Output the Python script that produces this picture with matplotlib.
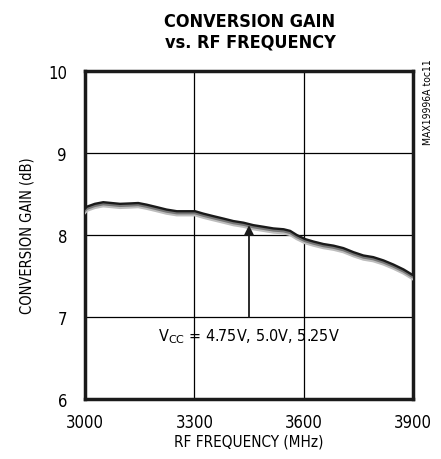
import matplotlib
matplotlib.use("Agg")
import matplotlib.pyplot as plt

# data
freq = [3000, 3005, 3027, 3050, 3073, 3096, 3124, 3146, 3169, 3197, 3224, 3252,
        3279, 3302, 3325, 3352, 3380, 3407, 3435, 3462, 3490, 3517, 3545, 3563,
        3581, 3604, 3627, 3654, 3682, 3709, 3737, 3764, 3791, 3819, 3846, 3874, 3900]
gain_475 = [8.32, 8.345, 8.38, 8.40, 8.39, 8.38, 8.385, 8.39, 8.37, 8.34, 8.31, 8.29,
            8.29, 8.29, 8.26, 8.23, 8.20, 8.17, 8.15, 8.12, 8.10, 8.08, 8.07, 8.05,
            8.00, 7.95, 7.92, 7.89, 7.87, 7.84, 7.79, 7.75, 7.73, 7.69, 7.64, 7.58, 7.51]
gain_50 = [g - 0.022 for g in gain_475]
gain_525 = [g - 0.045 for g in gain_475]
xticks = [3000, 3300, 3600, 3900]
yticks = [6, 7, 8, 9, 10]

narrow = dict(family="DejaVu Sans", stretch="condensed")

fig = plt.figure(figsize=(4.41, 4.60), dpi=100)
ax = fig.add_axes([85/441, 60/460, 328/441, 328/460])

ax.plot(freq, gain_525, color="#bdbdbd", lw=2.2, zorder=3)
ax.plot(freq, gain_50, color="#777777", lw=2.0, zorder=4)
ax.plot(freq, gain_475, color="#1a1a1a", lw=1.7, zorder=5)

ax.set_xlim(3000, 3900)
ax.set_ylim(6, 10)
ax.set_xticks(xticks)
ax.set_yticks(yticks)
ax.grid(True, color="black", lw=0.9)
ax.tick_params(length=0, labelsize=12)
ax.tick_params(axis="x", pad=10)
ax.tick_params(axis="y", pad=13)
for lab in ax.get_xticklabels() + ax.get_yticklabels():
    lab.set_family("DejaVu Sans")
    lab.set_stretch("condensed")
for sp in ax.spines.values():
    sp.set_linewidth(2.5)
    sp.set_color("#1a1a1a")

ax.set_xlabel("RF FREQUENCY (MHz)", fontsize=11, labelpad=2, **narrow)
ax.set_ylabel("CONVERSION GAIN (dB)", fontsize=10.5, labelpad=10, **narrow)

ax.annotate("", xy=(3450, 8.12), xytext=(3450, 7.0),
            arrowprops=dict(arrowstyle="-|>", color="#1a1a1a", lw=1.3,
                            mutation_scale=14, shrinkA=0, shrinkB=0), zorder=6)
ax.text(3450, 6.77, r"V$_{\rm CC}$ = 4.75V, 5.0V, 5.25V",
        fontsize=11.5, ha="center", va="center", **narrow)

fig.text(0.97, 0.778, "MAX19996A toc11", rotation=90,
         fontsize=7.5, ha="center", va="center", **narrow)
fig.text(0.567, 0.93, "CONVERSION GAIN\nvs. RF FREQUENCY",
         fontsize=13, fontweight="bold", ha="center", va="center", linespacing=1.2,
         **narrow)

fig.savefig("out.png", dpi=100)
